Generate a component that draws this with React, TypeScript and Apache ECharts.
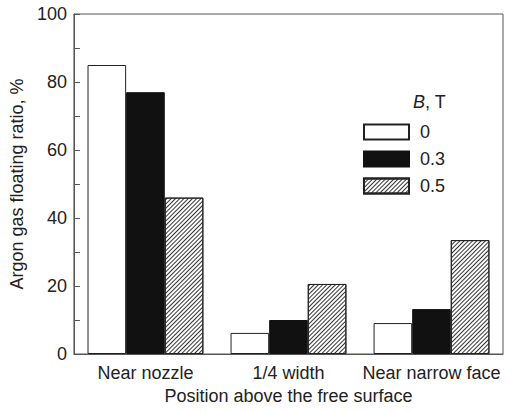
import React, { useEffect, useRef } from "react";
import * as echarts from "echarts";

const categories = ["Near nozzle", "1/4 width", "Near narrow face"];
const seriesNames = ["0", "0.3", "0.5"];
const values0 = [85, 6.2, 9.1];
const values03 = [77, 10, 13.2];
const values05 = [46, 20.6, 33.5];
const yTicks = { min: 0, max: 100, interval: 20 };

export default function App() {
  const ref = useRef<HTMLDivElement>(null);
  useEffect(() => {
    if (!ref.current) return;
    const chart = echarts.init(ref.current, undefined, { renderer: "svg" });
    const font = "'Liberation Sans', Arial, sans-serif";
    const txt = "#222";
    const axisCol = "#555";
    const hatch = {
      symbol: "rect",
      symbolSize: 1,
      color: "#333",
      dashArrayX: [1, 0],
      dashArrayY: [1, 2],
      rotation: -Math.PI / 4,
    };
    chart.setOption({
      animation: false,
      grid: {
        left: 68,
        right: 9,
        top: 14,
        bottom: 58,
        show: true,
        borderColor: axisCol,
        borderWidth: 1,
      },
      legend: {
        orient: "vertical",
        left: 358,
        top: 118,
        itemWidth: 45,
        itemHeight: 15,
        itemGap: 9,
        selectedMode: false,
        icon: "rect",
        data: seriesNames,
        textStyle: { fontFamily: font, fontSize: 18, color: txt, padding: [0, 0, 0, 6] },
      },
      graphic: [
        {
          type: "text",
          left: 413,
          top: 93,
          style: {
            text: "{i|B}, T",
            rich: { i: { fontStyle: "italic", fontFamily: font, fontSize: 18, fill: txt } },
            fontFamily: font,
            fontSize: 18,
            fill: txt,
          },
        },
      ],
      xAxis: {
        type: "category",
        data: categories,
        axisLine: { lineStyle: { color: axisCol } },
        axisTick: { show: false },
        axisLabel: { fontFamily: font, fontSize: 18, color: txt, margin: 10, interval: 0 },
        name: "Position above the free surface",
        nameLocation: "middle",
        nameGap: 25,
        nameTextStyle: { fontFamily: font, fontSize: 18, color: txt },
      },
      yAxis: {
        type: "value",
        min: yTicks.min,
        max: yTicks.max,
        interval: yTicks.interval,
        axisLine: { show: true, lineStyle: { color: axisCol } },
        axisTick: { show: true, inside: true, length: 6, lineStyle: { color: axisCol } },
        minorTick: { show: true, splitNumber: 2, length: 6, lineStyle: { color: axisCol } },
        splitLine: { show: false },
        axisLabel: { fontFamily: font, fontSize: 18, color: txt, margin: 7 },
        name: "Argon gas floating ratio, %",
        nameLocation: "middle",
        nameGap: 33,
        nameTextStyle: { fontFamily: font, fontSize: 18, color: txt },
      },
      series: [
        {
          name: seriesNames[0],
          type: "bar",
          data: values0,
          barGap: "0%",
          barCategoryGap: "19%",
          itemStyle: { color: "#fff", borderColor: "#222", borderWidth: 1 },
        },
        {
          name: seriesNames[1],
          type: "bar",
          data: values03,
          itemStyle: { color: "#111", borderColor: "#111", borderWidth: 1 },
        },
        {
          name: seriesNames[2],
          type: "bar",
          data: values05,
          itemStyle: { color: "#fff", borderColor: "#222", borderWidth: 1, decal: hatch },
        },
      ],
    });
    return () => chart.dispose();
  }, []);
  return (
    <div
      ref={ref}
      style={{ position: "fixed", left: 0, top: 0, width: 512, height: 412, background: "#fff" }}
    />
  );
}
